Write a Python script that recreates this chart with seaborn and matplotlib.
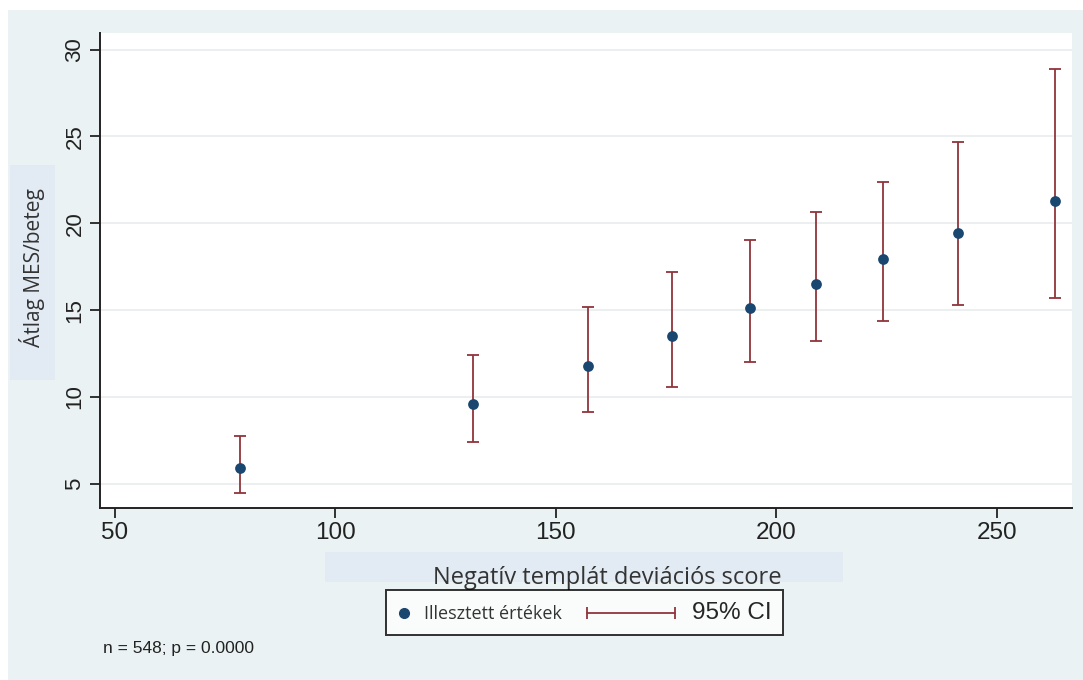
import numpy as np
import pandas as pd
import seaborn as sns
import matplotlib.pyplot as plt
from matplotlib.lines import Line2D
from matplotlib.patches import Rectangle
from matplotlib.legend_handler import HandlerLine2D

# --- dados ---
score = [78.4, 131.3, 157.3, 176.4, 194.1, 209.0, 224.3, 241.3, 263.2]
media = [5.89, 9.57, 11.76, 13.49, 15.14, 16.50, 17.93, 19.42, 21.28]
ci_inf = [4.45, 7.42, 9.15, 10.59, 12.03, 13.24, 14.37, 15.31, 15.70]
ci_sup = [7.75, 12.41, 15.20, 17.19, 19.04, 20.63, 22.40, 24.70, 28.87]
x_ticks = [50, 100, 150, 200, 250]
y_ticks = [5, 10, 15, 20, 25, 30]

df = pd.DataFrame({"score": score, "media": media, "inf": ci_inf, "sup": ci_sup})

NAVY = "#1a476f"
MAROON = "#90353b"
PAINEL = "#eaf2f3"
CAIXA = "#e2ebf3"


class HandlerPonto(HandlerLine2D):
    # caixa estreita só para o ponto da legenda
    def legend_artist(self, legend, orig_handle, fontsize, handlebox):
        handlebox.width = 10
        return super().legend_artist(legend, orig_handle, fontsize, handlebox)


sns.set_theme(style="white")
plt.rcParams["font.family"] = ["Liberation Sans", "DejaVu Sans"]

fig = plt.figure(figsize=(10.83, 6.80), dpi=100)
fig.patch.set_facecolor("white")
# fundo do gráfico (estilo Stata)
fig.patches.append(Rectangle((8 / 1083, 0), 1 - 8 / 1083, 1 - 10 / 680,
                             transform=fig.transFigure, facecolor=PAINEL,
                             edgecolor="none", zorder=-10))
# caixas dos títulos dos eixos
fig.patches.append(Rectangle((10 / 1083, 1 - 380 / 680), 45 / 1083, 215 / 680,
                             transform=fig.transFigure, facecolor=CAIXA,
                             edgecolor="none", zorder=-5))
fig.patches.append(Rectangle((325 / 1083, 1 - 582 / 680), 518 / 1083, 30 / 680,
                             transform=fig.transFigure, facecolor=CAIXA,
                             edgecolor="none", zorder=-5))

ax = fig.add_axes([100 / 1083, 1 - 507.7 / 680, 971.7 / 1083, (507.7 - 33.3) / 680])
ax.set_facecolor("white")

ax.errorbar(df["score"], df["media"],
            yerr=[df["media"] - df["inf"], df["sup"] - df["media"]],
            fmt="none", ecolor=MAROON, elinewidth=1.3, capsize=4.5, capthick=1.3, zorder=2)
sns.scatterplot(data=df, x="score", y="media", color=NAVY, s=60, edgecolor=NAVY,
                linewidth=0, ax=ax, zorder=3)

ax.set_xlim(46.6, 267.0)
ax.set_ylim(3.62, 30.94)
ax.set_xticks(x_ticks)
ax.set_yticks(y_ticks)
ax.grid(axis="y", color="#e8ecee", linewidth=1.2)
ax.set_axisbelow(True)
for s in ["top", "right"]:
    ax.spines[s].set_visible(False)
for s in ["left", "bottom"]:
    ax.spines[s].set_color("#222222")
    ax.spines[s].set_linewidth(1.4)
ax.tick_params(axis="both", direction="out", length=7, width=1.3, color="#222222",
               labelcolor="#222222", left=True, bottom=True)
ax.tick_params(axis="x", labelsize=17.5)
ax.tick_params(axis="y", labelsize=16)
for lab in ax.get_yticklabels():
    lab.set_rotation(90)
    lab.set_va("center")
ax.set_xlabel("")
ax.set_ylabel("")

fig.text(32 / 1083, 1 - 268 / 680, "Átlag MES/beteg", rotation=90, ha="center", va="center",
         fontsize=15, family="Open Sans", color="#333333")
fig.text(607 / 1083, 1 - 578 / 680, "Negatív templát deviációs score", ha="center", va="center",
         fontsize=17, family="Open Sans", color="#333333")
fig.text(103 / 1083, 1 - 648 / 680, "n = 548; p = 0.0000", ha="left", va="center",
         fontsize=12.5, color="#222222")

h_pt = Line2D([], [], marker="o", linestyle="none", color=NAVY, markersize=7)
h_ci = Line2D([], [], marker="|", color=MAROON, linewidth=1.3, markersize=9, markeredgewidth=1.3)
leg = fig.legend([h_pt, h_ci], ["Illesztett értékek", "95% CI"], loc="center",
                 bbox_to_anchor=(584.5 / 1083, 1 - 612.8 / 680), ncol=2, numpoints=1,
                 handler_map={h_pt: HandlerPonto(numpoints=1), h_ci: HandlerLine2D(numpoints=2)},
                 prop={"size": 12},
                 frameon=True, fancybox=False, edgecolor="black", facecolor="white",
                 handlelength=5.88, columnspacing=1.2, handletextpad=0.75, borderpad=0.7)
leg.get_frame().set_linewidth(1.4)
txt = leg.get_texts()
txt[0].set_family("Open Sans")
txt[0].set_fontsize(13)
txt[0].set_color("#333333")
txt[1].set_fontsize(17.5)

fig.savefig("out.png", dpi=100)
